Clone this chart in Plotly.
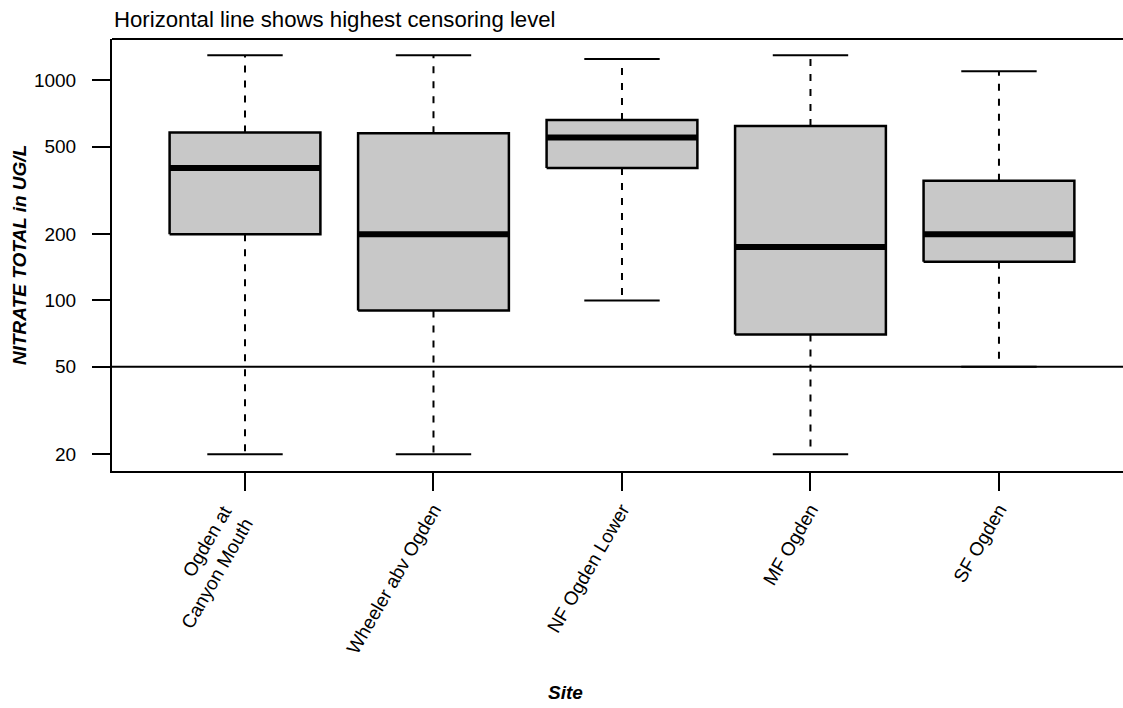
import plotly.graph_objects as go

# Site names (x categories) and box statistics for total nitrate, ug/L
sites = ["Ogden at<br>Canyon Mouth", "Wheeler abv Ogden", "NF Ogden Lower", "MF Ogden", "SF Ogden"]
lower_whisker = [20, 20, 100, 20, 50]
q1 = [200, 90, 400, 70, 150]
median = [400, 200, 550, 175, 200]
q3 = [580, 575, 660, 620, 350]
upper_whisker = [1300, 1300, 1250, 1300, 1100]

# highest censoring level (reporting limit)
censor_level = 50

y_ticks = [20, 50, 100, 200, 500, 1000]

FONT = "Liberation Sans, Arial, sans-serif"
W, H = 1123, 708
L, R, T, B = 112, 0, 39, 237
BOX_HALF = 0.4
CAP_HALF = 0.2
X_RANGE = [0.2944, 5.658]
Y_RANGE = [1.2255, 3.1877]  # log10 units

fig = go.Figure()

for i, name in enumerate(sites):
    c = i + 1
    # dashed whiskers
    fig.add_trace(go.Scatter(
        x=[c, c, None, c, c],
        y=[q3[i], upper_whisker[i], None, q1[i], lower_whisker[i]],
        mode="lines", line=dict(color="black", width=2, dash="7px,8px"),
        hoverinfo="skip", showlegend=False))
    # whisker caps
    fig.add_trace(go.Scatter(
        x=[c - CAP_HALF, c + CAP_HALF, None, c - CAP_HALF, c + CAP_HALF],
        y=[upper_whisker[i], upper_whisker[i], None, lower_whisker[i], lower_whisker[i]],
        mode="lines", line=dict(color="black", width=2),
        hoverinfo="skip", showlegend=False))
    # interquartile box
    fig.add_trace(go.Scatter(
        x=[c - BOX_HALF, c + BOX_HALF, c + BOX_HALF, c - BOX_HALF, c - BOX_HALF],
        y=[q1[i], q1[i], q3[i], q3[i], q1[i]],
        mode="lines", fill="toself", fillcolor="#c8c8c8",
        line=dict(color="black", width=2.5),
        hoverinfo="skip", showlegend=False))
    # median bar
    fig.add_trace(go.Scatter(
        x=[c - BOX_HALF, c + BOX_HALF],
        y=[median[i], median[i]],
        mode="lines", line=dict(color="black", width=6),
        hoverinfo="skip", showlegend=False))

# censoring level line across the plot
fig.add_trace(go.Scatter(
    x=X_RANGE, y=[censor_level, censor_level],
    mode="lines", line=dict(color="black", width=2),
    hoverinfo="skip", showlegend=False, cliponaxis=True))

# two-line site names are drawn as rotated annotations so the block is centred on its tick
tick_text = ["" if "<br>" in s else s for s in sites]
site_notes = [
    dict(text=s, xref="x", yref="paper", x=i + 1 + 0.080, y=-0.0639,
         xanchor="right", yanchor="top", align="right", textangle=-60, showarrow=False,
         font=dict(family=FONT, size=19, color="black"))
    for i, s in enumerate(sites) if "<br>" in s
]

fig.update_layout(
    width=W, height=H,
    margin=dict(l=L, r=R, t=T, b=B, pad=0),
    paper_bgcolor="white", plot_bgcolor="white",
    font=dict(family=FONT, size=19, color="black"),
    showlegend=False,
    xaxis=dict(
        range=X_RANGE, tickmode="array", tickvals=[1, 2, 3, 4, 5], ticktext=tick_text,
        tickangle=-60, ticks="outside", ticklen=18, tickwidth=2, tickcolor="black",
        showline=True, linewidth=2, linecolor="black", showgrid=False, zeroline=False,
        tickfont=dict(family=FONT, size=19, color="black"), fixedrange=True),
    yaxis=dict(
        type="log", range=Y_RANGE, tickmode="array", tickvals=y_ticks,
        ticktext=[str(v) for v in y_ticks], ticklabelstandoff=12,
        ticks="outside", ticklen=18, tickwidth=2, tickcolor="black",
        showline=True, linewidth=2, linecolor="black", showgrid=False, zeroline=False,
        tickfont=dict(family=FONT, size=19, color="black"), fixedrange=True),
    shapes=[dict(type="line", xref="paper", yref="paper", x0=0, x1=1, y0=1, y1=1,
                 line=dict(color="black", width=2))],
    annotations=[
        dict(text="Horizontal line shows highest censoring level", xref="paper", yref="paper",
             x=0, y=1.046, xanchor="left", yanchor="middle", showarrow=False,
             font=dict(family=FONT, size=22.2, color="black")),
        dict(text="<b><i>NITRATE TOTAL in UG/L</i></b>", xref="paper", yref="paper",
             x=-0.092, y=0.5, xanchor="center", yanchor="middle", textangle=-90,
             showarrow=False, font=dict(family=FONT, size=19, color="black")),
        dict(text="<b><i>Site</i></b>", xref="paper", yref="paper",
             x=0.449, y=-0.5116, xanchor="center", yanchor="middle",
             showarrow=False, font=dict(family=FONT, size=19, color="black")),
    ] + site_notes,
)

fig.write_html("out.html", config={"displayModeBar": False})
